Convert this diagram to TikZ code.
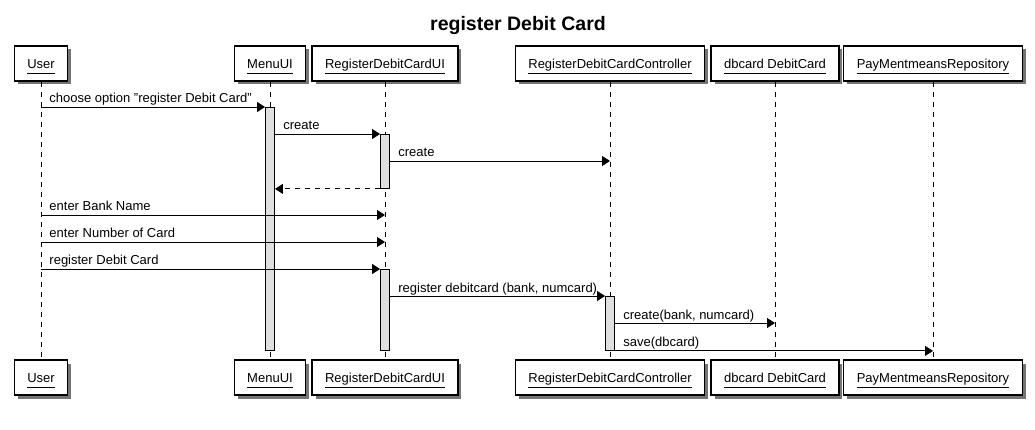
\documentclass[tikz,border=0pt]{standalone}
\usepackage{fontspec}
\setmainfont{Liberation Sans}
\usetikzlibrary{arrows.meta,shadows}
\newcommand\ptxt[1]{\raisebox{-1.5pt}[9.5pt][2pt]{\underline{#1\vphantom{gy}}}}
\begin{document}
\begin{tikzpicture}[x=1pt,y=-1pt,
  every node/.style={font=\fontsize{13}{15}\selectfont},
  part/.style={draw=black, line width=1.2pt, fill=white, minimum height=35pt, inner xsep=13pt, inner ysep=0pt,
    drop shadow={shadow xshift=3.5pt, shadow yshift=-3.5pt, fill=black!60, opacity=0.9}},
  life/.style={dash pattern=on 5pt off 5pt, line width=0.8pt},
  bar/.style={draw=black, fill=gray!25, line width=0.9pt, minimum width=9pt, inner sep=0pt, anchor=north},
  msg/.style={line width=0.9pt, -{Triangle[length=8pt,width=10pt]}},
  ret/.style={msg, dash pattern=on 5pt off 5pt},
  lbl/.style={anchor=base west, inner sep=0pt, xshift=8pt, yshift=4pt},
]
\useasboundingbox[fill=white] (0,0) rectangle (1035,430);

\node[font=\bfseries\fontsize{19.5}{22}\selectfont, anchor=base] (title) at (518,31) {register Debit Card};

% participants top
\node[part] (user) at (41,63.5) {\ptxt{User}};
\node[part] (menu) at (270,63.5) {\ptxt{MenuUI}};
\node[part] (rdui) at (385,63.5) {\ptxt{RegisterDebitCardUI}};
\node[part] (ctrl) at (610,63.5) {\ptxt{RegisterDebitCardController}};
\node[part] (dbc) at (775,63.5) {\ptxt{dbcard DebitCard}};
\node[part] (repo) at (933,63.5) {\ptxt{PayMentmeansRepository}};
% participants bottom
\node[part] (userb) at (41,377.5) {\ptxt{User}};
\node[part] (menub) at (270,377.5) {\ptxt{MenuUI}};
\node[part] (rduib) at (385,377.5) {\ptxt{RegisterDebitCardUI}};
\node[part] (ctrlb) at (610,377.5) {\ptxt{RegisterDebitCardController}};
\node[part] (dbcb) at (775,377.5) {\ptxt{dbcard DebitCard}};
\node[part] (repob) at (933,377.5) {\ptxt{PayMentmeansRepository}};

% lifelines
\draw[life] (user) -- (userb);
\draw[life] (menu) -- (menub);
\draw[life] (rdui) -- (rduib);
\draw[life] (ctrl) -- (ctrlb);
\draw[life] (dbc) -- (dbcb);
\draw[life] (repo) -- (repob);

% activation bars
\node[bar, minimum height=243pt] (mbar) at (270,107) {};
\node[bar, minimum height=54pt] (rbar1) at (385,134) {};
\node[bar, minimum height=81pt] (rbar2) at (385,269) {};
\node[bar, minimum height=54pt] (cbar) at (610,296) {};

% messages
\draw[msg] (user |- mbar.north) -- (mbar.north west)
  node[lbl,pos=0] {choose option "register Debit Card"};
\draw[msg] (mbar.east |- rbar1.north) -- (rbar1.north west)
  node[lbl,pos=0] {create};
\draw[msg] (rbar1.east |- 0,161) -- (ctrl |- 0,161)
  node[lbl,pos=0] {create};
\draw[ret] (rbar1.south west) -- (mbar.east |- rbar1.south);
\draw[msg] (user |- 0,215) -- (rdui |- 0,215)
  node[lbl,pos=0] {enter Bank Name};
\draw[msg] (user |- 0,242) -- (rdui |- 0,242)
  node[lbl,pos=0] {enter Number of Card};
\draw[msg] (user |- rbar2.north) -- (rbar2.north west)
  node[lbl,pos=0] {register Debit Card};
\draw[msg] (rbar2.east |- cbar.north) -- (cbar.north west)
  node[lbl,pos=0] {register debitcard (bank, numcard)};
\draw[msg] (cbar.east |- 0,323) -- (dbc |- 0,323)
  node[lbl,pos=0] {create(bank, numcard)};
\draw[msg] (cbar.south east) -- (repo |- cbar.south)
  node[lbl,pos=0] {save(dbcard)};
\end{tikzpicture}
\end{document}
